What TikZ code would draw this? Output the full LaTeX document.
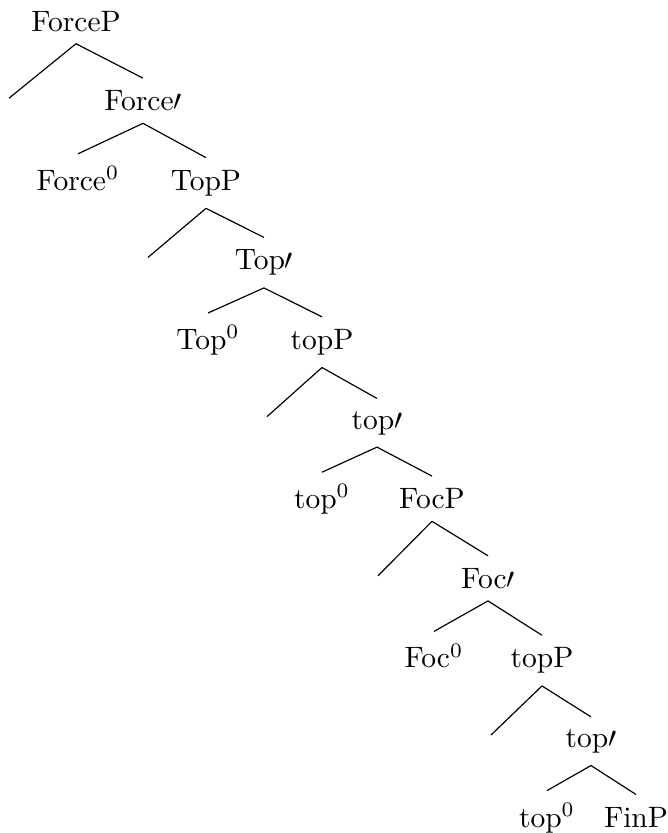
\documentclass[tikz,border=0pt]{standalone}
\begin{document}
\begin{tikzpicture}[x=0.339pt,y=-0.339pt,
  lbl/.style={anchor=base, inner xsep=1pt, inner ysep=4pt, font=\fontsize{10}{12}\selectfont},
  edge/.style={line width=0.4pt}]
\useasboundingbox (0,0) rectangle (668,833);
\node[lbl] (n0) at (76,31) {ForceP};
\node[lbl] (e1) at (9,110.6) {};
\node[lbl] (n1) at (143,110.6) {Force$\prime$};
\node[lbl] (n2a) at (78,190.2) {Force$^0$};
\node[lbl] (n2) at (206,190.2) {TopP};
\node[lbl] (e3) at (148,269.8) {};
\node[lbl] (n3) at (264,269.8) {Top$\prime$};
\node[lbl] (n4a) at (208,349.4) {Top$^0$};
\node[lbl] (n4) at (322,349.4) {topP};
\node[lbl] (e5) at (267,429) {};
\node[lbl] (n5) at (377,429) {top$\prime$};
\node[lbl] (n6a) at (322,508.6) {top$^0$};
\node[lbl] (n6) at (432,508.6) {FocP};
\node[lbl] (e7) at (378,588.2) {};
\node[lbl] (n7) at (488,588.2) {Foc$\prime$};
\node[lbl] (n8a) at (434,667.8) {Foc$^0$};
\node[lbl] (n8) at (542,667.8) {topP};
\node[lbl] (e9) at (491,747.4) {};
\node[lbl] (n9) at (591,747.4) {top$\prime$};
\node[lbl] (n10a) at (547,827) {top$^0$};
\node[lbl] (n10) at (636,827) {FinP};
\draw[edge] (n0.south) -- (e1.north);
\draw[edge] (n0.south) -- (n1.north);
\draw[edge] (n1.south) -- (n2a.north);
\draw[edge] (n1.south) -- (n2.north);
\draw[edge] (n2.south) -- (e3.north);
\draw[edge] (n2.south) -- (n3.north);
\draw[edge] (n3.south) -- (n4a.north);
\draw[edge] (n3.south) -- (n4.north);
\draw[edge] (n4.south) -- (e5.north);
\draw[edge] (n4.south) -- (n5.north);
\draw[edge] (n5.south) -- (n6a.north);
\draw[edge] (n5.south) -- (n6.north);
\draw[edge] (n6.south) -- (e7.north);
\draw[edge] (n6.south) -- (n7.north);
\draw[edge] (n7.south) -- (n8a.north);
\draw[edge] (n7.south) -- (n8.north);
\draw[edge] (n8.south) -- (e9.north);
\draw[edge] (n8.south) -- (n9.north);
\draw[edge] (n9.south) -- (n10a.north);
\draw[edge] (n9.south) -- (n10.north);
\end{tikzpicture}
\end{document}
